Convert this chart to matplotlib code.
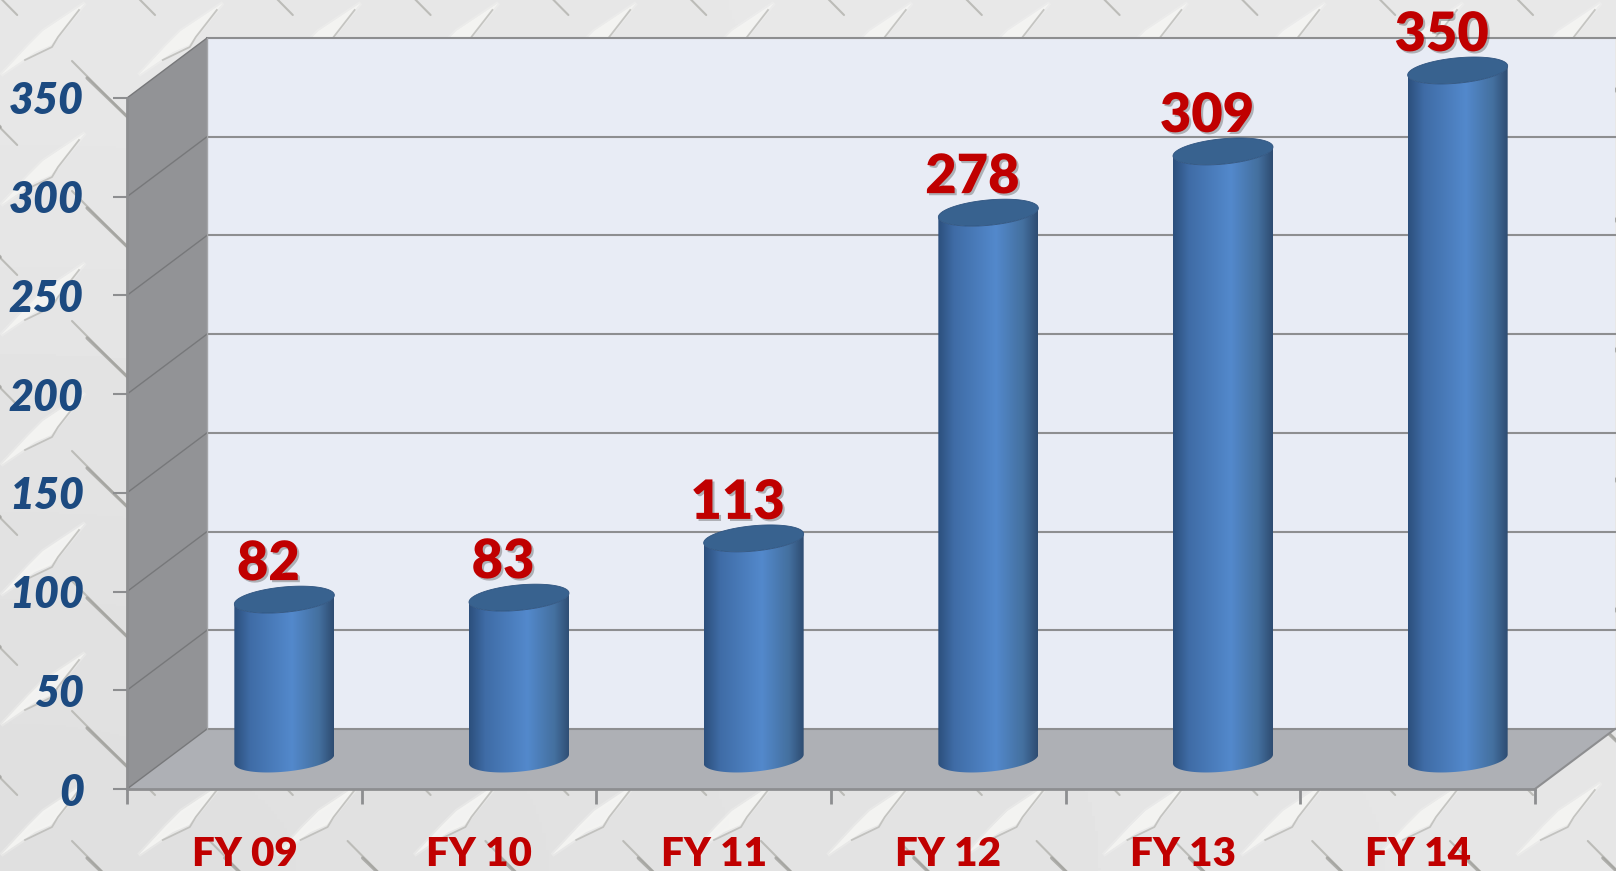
import numpy as np
import matplotlib
matplotlib.use('Agg')
import matplotlib.pyplot as plt
import matplotlib.patheffects as pe
from matplotlib.patches import Polygon, PathPatch
from matplotlib.path import Path
from matplotlib.colors import LinearSegmentedColormap

categories = ['FY 09', 'FY 10', 'FY 11', 'FY 12', 'FY 13', 'FY 14']
values = [82, 83, 113, 278, 309, 350]
yTicks = [0, 50, 100, 150, 200, 250, 300, 350]

plt.rcParams['font.family'] = ['Lato', 'DejaVu Sans']

W, H = 1616, 871
LEFT, RIGHT, BOTTOM, TOP = 127, 1535, 789, 98
pxX = (RIGHT - LEFT) / 6.0
pxY = (BOTTOM - TOP) / 350.0
depthX = 80 / pxX
depthY = 60 / pxY
GRAY = '#8d8e90'
RED = '#c00000'
BLUE = '#1c4a80'

fig = plt.figure(figsize=(W / 100, H / 100), dpi=100)

# diamond plate background, pixel coordinates
bg = fig.add_axes([0, 0, 1, 1], zorder=0)
bg.set_xlim(0, W)
bg.set_ylim(H, 0)
bg.axis('off')
shade = np.array([[0.905, 0.91], [0.875, 0.90]])
bg.imshow(shade, extent=(0, W, H, 0), cmap='gray', vmin=0, vmax=1, aspect='auto',
          interpolation='bicubic', zorder=0)
for col in range(-1, 13):
    for row in range(-1, 8):
        cx = 43 + 137.8 * col
        cy = 39 + 130 * row
        # dark groove, thin at the ends
        gx, gy = 72 + 137.8 * col, 61 + 130 * row
        bg.plot([gx, gx + 83], [gy, gy + 84], color='#bcbcb8', lw=1.5,
                solid_capstyle='round', zorder=1)
        bg.plot([gx + 15, gx + 66], [gy + 17, gy + 66], color='#a0a09c', lw=2.3,
                alpha=0.8, solid_capstyle='round', zorder=1)
        # raised lens with a soft rim and a shadow on its lower side
        lens = [(cx - 42, cy + 36), (cx - 15, cy + 7), (cx, cy - 8), (cx + 42, cy - 36),
                (cx + 15, cy - 3), (cx + 8, cy + 6), (cx - 8, cy + 13)]
        bg.add_patch(Polygon(lens, closed=True, fc='#f3f3f1', ec='#f3f3f1', lw=3, alpha=0.35, zorder=2))
        bg.add_patch(Polygon(lens, closed=True, fc='#f5f5f3', ec='none', alpha=0.85, zorder=2))
        bg.plot([cx + 36, cx + 15, cx + 9, cx - 18],
                [cy - 29, cy - 2, cy + 8, cy + 21],
                color='#b4b4b0', lw=1.3, alpha=0.7, zorder=2)

ax = fig.add_axes([LEFT / W, 1 - BOTTOM / H, (RIGHT - LEFT) / W, (BOTTOM - TOP) / H], zorder=1)
ax.patch.set_alpha(0)

x0, x1 = -0.5, 5.5
ax.add_patch(Polygon([(x0 + depthX, depthY), (x1 + depthX, depthY), (x1 + depthX, 350 + depthY),
                      (x0 + depthX, 350 + depthY)], fc='#e8ecf5', ec='none', clip_on=False, zorder=1))
ax.add_patch(Polygon([(x0, 0), (x1, 0), (x1 + depthX, depthY), (x0 + depthX, depthY)],
                     fc='#aeb0b5', ec='none', clip_on=False, zorder=1))
ax.add_patch(Polygon([(x0, 0), (x0 + depthX, depthY), (x0 + depthX, 350 + depthY), (x0, 350)],
                     fc='#929396', ec='none', clip_on=False, zorder=1))

for v in yTicks:
    ax.plot([x0 + depthX, x1 + depthX], [v + depthY, v + depthY], color=GRAY, lw=1.5,
            clip_on=False, zorder=2)
    ax.plot([x0, x0 + depthX], [v, v + depthY], color='#77787a', lw=1.0, clip_on=False, zorder=2)
ax.plot([x1, x1 + depthX], [0, depthY], color=GRAY, lw=1.5, clip_on=False, zorder=2)
ax.plot([x0 + depthX, x0 + depthX], [depthY, 350 + depthY], color='#a5a6a9', lw=1.0,
        clip_on=False, zorder=2)

# cylinders
cylCmap = LinearSegmentedColormap.from_list('cyl', [(0, '#2c4f7c'), (0.16, '#3f6ca6'), (0.58, '#5389cc'),
                                                    (0.85, '#44709f'), (1, '#2e4c72')])
halfW = 50 / pxX
tilt = 4.5 / pxY
minor = 12.7 / pxY
topDrop = 2.5 / pxY
t = np.linspace(0, np.pi, 60)
tt = np.linspace(0, 2 * np.pi, 120)
grad = np.linspace(0, 1, 256).reshape(1, -1)

for i, v in enumerate(values):
    cx = i + depthX / 2
    yBase = depthY / 2
    yTop = v + depthY / 2
    yEll = yTop - topDrop
    # front half of the bottom ellipse, left to right, then the top one back
    xArc = cx - halfW * np.cos(t)
    yArc = -tilt * np.cos(t) - minor * np.sin(t)
    bottomEdge = np.column_stack([xArc, yBase + yArc])
    topEdge = np.column_stack([xArc[::-1], yEll + yArc[::-1]])
    body = Path(np.vstack([bottomEdge, topEdge, bottomEdge[:1]]))
    clip = PathPatch(body, fc='none', ec='none', transform=ax.transData, clip_on=False)
    ax.add_patch(clip)
    im = ax.imshow(grad, extent=(cx - halfW, cx + halfW, yBase - 2 * minor, yTop + 2 * minor),
                   cmap=cylCmap, vmin=0, vmax=1, aspect='auto', zorder=3)
    im.set_clip_path(clip)
    im.set_clip_box(fig.bbox)
    # top ellipse
    ex = cx - halfW * np.cos(tt)
    ey = yEll - tilt * np.cos(tt) + minor * np.sin(tt)
    ax.add_patch(Polygon(np.column_stack([ex, ey]), fc='#38628f', ec='#2f5480', lw=0.6,
                         clip_on=False, zorder=4))
    ax.annotate(str(v), xy=(cx, yTop), xytext=(-16, 33), textcoords='offset pixels', ha='center',
                va='center', fontsize=39, fontweight='heavy', color=RED, zorder=6, annotation_clip=False,
                path_effects=[pe.withSimplePatchShadow(offset=(1.5, -1.5), alpha=0.35, shadow_rgbFace='#404040')])

ax.set_xlim(x0, x1)
ax.set_ylim(0, 350)

for side in ['top', 'right']:
    ax.spines[side].set_visible(False)
for side in ['left', 'bottom']:
    ax.spines[side].set_color(GRAY)
    ax.spines[side].set_linewidth(2.0)
    ax.spines[side].set_zorder(5)

ax.set_yticks(yTicks)
ax.set_yticklabels([str(v) for v in yTicks], fontsize=31, fontweight='heavy', fontstyle='italic', color=BLUE)
ax.tick_params(axis='y', length=10, width=1.5, color=GRAY, pad=21)

ax.set_xticks(np.arange(6))
ax.set_xticklabels(categories, fontsize=29, fontweight='heavy', color=RED)
ax.set_xticks(np.arange(7) - 0.5, minor=True)
ax.tick_params(axis='x', which='major', length=0, pad=34)
ax.tick_params(axis='x', which='minor', length=11, width=2.0, color=GRAY)

fig.savefig('out.png', dpi=100)
